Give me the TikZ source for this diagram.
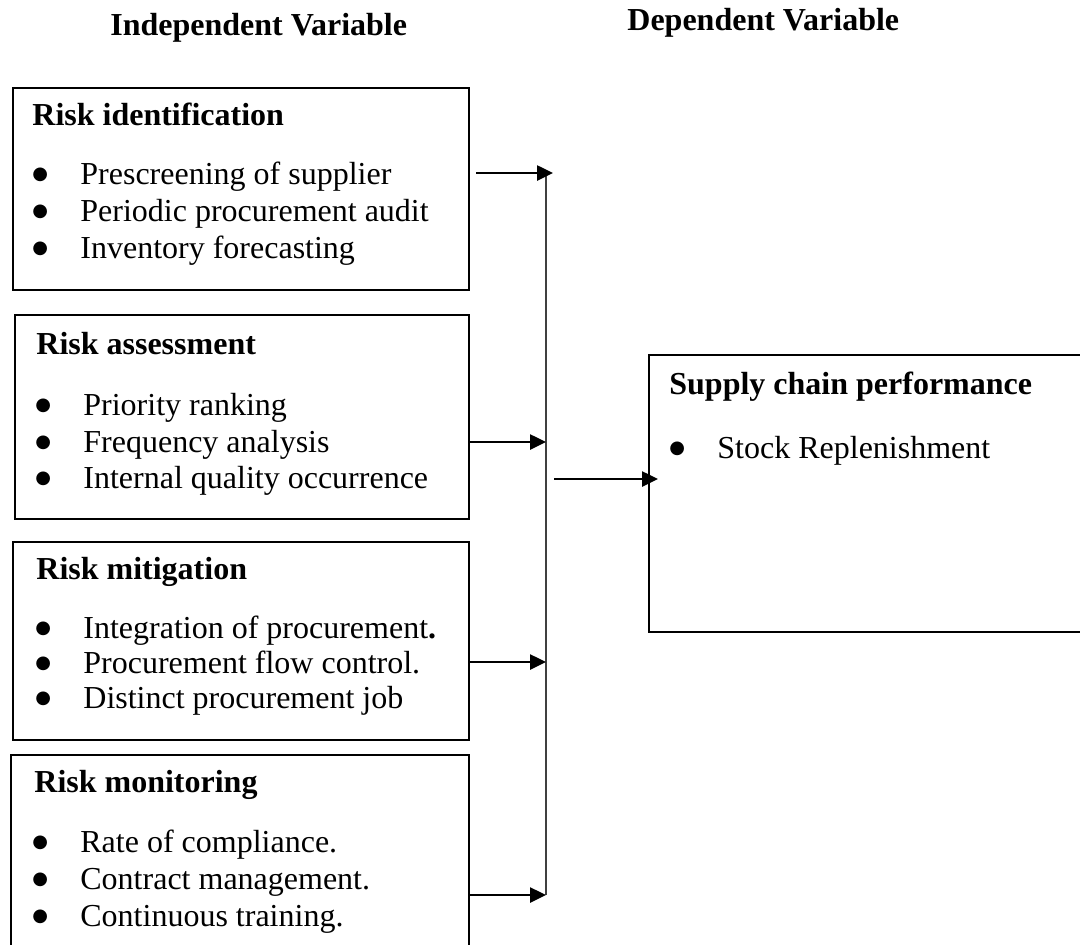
\documentclass[tikz,border=0pt]{standalone}
\usepackage{fontspec}
\setmainfont{Liberation Serif}
\newfontfamily\symfont{DejaVu Sans}
\usepackage{tikz}
\usetikzlibrary{arrows.meta}

\newcommand{\bigtext}{\fontsize{16}{19}\selectfont}
\newcommand{\bul}{\makebox[24pt][l]{\raisebox{2.5pt}{\symfont\fontsize{9}{9}\selectfont ●}}}

\begin{document}
\begin{tikzpicture}[
  x=0.5pt, y=-0.5pt,
  varbox/.style={draw, line width=1pt, anchor=north west, inner sep=0pt},
  head/.style={anchor=base west, inner sep=0pt, font=\bigtext\bfseries},
  entry/.style={anchor=base west, inner sep=0pt, font=\bigtext},
  arr/.style={-{Triangle[length=8pt,width=7.5pt]}, line width=1.3pt},
  bus/.style={line width=0.8pt, black!75}
]
  \useasboundingbox (0,0) rectangle (1080,944);
  \clip (0,0) rectangle (1080,944);

  % column titles
  \node[head] (ivtitle) at (110,35) {Independent Variable};
  \node[head] (dvtitle) at (627,30) {Dependent Variable};

  % independent variables
  \node[varbox, minimum width=228pt, minimum height=101pt] (ident) at (12,87) {};
  \node[head] (identh) at (32,125) {Risk identification};
  \node[entry] (ident1) at (32,184) {\bul Prescreening of supplier};
  \node[entry] (ident2) at (32,221) {\bul Periodic procurement audit};
  \node[entry] (ident3) at (32,258) {\bul Inventory forecasting};

  \node[varbox, minimum width=227pt, minimum height=102pt] (assess) at (14,314) {};
  \node[head] (assessh) at (36,354) {Risk assessment};
  \node[entry] (assess1) at (35,415) {\bul Priority ranking};
  \node[entry] (assess2) at (35,452) {\bul Frequency analysis};
  \node[entry] (assess3) at (35,488) {\bul Internal quality occurrence};

  \node[varbox, minimum width=228pt, minimum height=99pt] (mitig) at (12,541) {};
  \node[head] (mitigh) at (36,579) {Risk mitigation};
  \node[entry] (mitig1) at (35,638) {\bul Integration of procurement\textbf{.}};
  \node[entry] (mitig2) at (35,673) {\bul Procurement flow control.};
  \node[entry] (mitig3) at (35,708) {\bul Distinct procurement job};

  \node[varbox, minimum width=229pt, minimum height=105pt] (monit) at (10,754) {};
  \node[head] (monith) at (34,792) {Risk monitoring};
  \node[entry] (monit1) at (32,852) {\bul Rate of compliance.};
  \node[entry] (monit2) at (32,889) {\bul Contract management.};
  \node[entry] (monit3) at (32,926) {\bul Continuous training.};

  % dependent variable
  \node[varbox, minimum width=226pt, minimum height=138.5pt] (perf) at (648,354) {};
  \node[head] (perfh) at (669,394) {Supply chain performance};
  \node[entry] (perf1) at (669,458) {\bul Stock Replenishment};

  % collecting line and arrows
  \coordinate (bus1) at (546,173);
  \coordinate (bus2) at (546,442);
  \coordinate (bus3) at (546,662);
  \coordinate (bus4) at (546,895);
  \coordinate (out) at (554,479);
  \draw[bus] (bus1) -- (bus4);
  \draw[arr] ([xshift=3pt]ident.east |- bus1) -- ([xshift=3.5pt]bus1);
  \draw[arr] (assess.east |- bus2) -- (bus2);
  \draw[arr] (mitig.east |- bus3) -- (bus3);
  \draw[arr] (monit.east |- bus4) -- (bus4);
  \draw[arr] (out) -- ([xshift=5pt]perf.west |- out);
\end{tikzpicture}
\end{document}
